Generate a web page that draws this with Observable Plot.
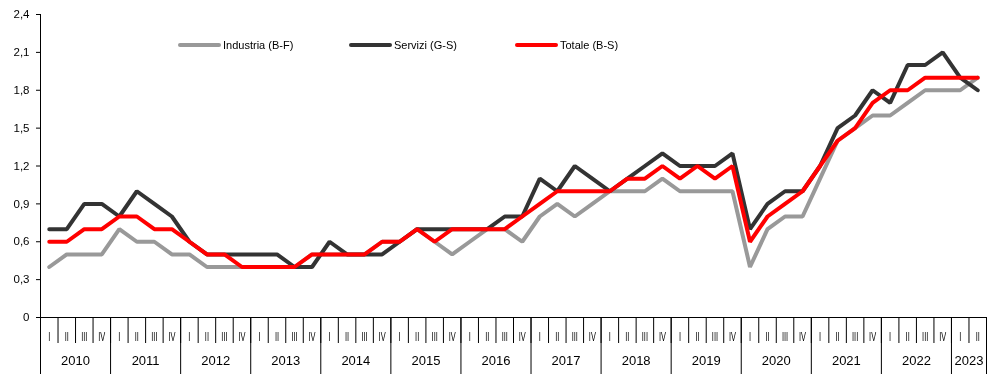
<!DOCTYPE html>
<html>
<head>
<meta charset="utf-8">
<script src="https://cdn.jsdelivr.net/npm/d3@7"></script>
<script src="https://cdn.jsdelivr.net/npm/@observablehq/plot@0.6"></script>
<style>
  html, body { margin: 0; padding: 0; background: #fff; }
  #wrap { position: relative; width: 1004px; height: 374px; overflow: hidden;
          font-family: "Liberation Sans", Arial, sans-serif; }
  #wrap svg { will-change: transform; }
  .leg { position: absolute; display: flex; align-items: center; font-size: 11px; color: #000; white-space: nowrap; }
  .leg .sw { width: 43px; height: 4px; border-radius: 2px; margin-right: 2px; }
</style>
</head>
<body>
<div id="wrap"></div>
<script>
// ---- data ----
const years = [2010, 2011, 2012, 2013, 2014, 2015, 2016, 2017, 2018, 2019, 2020, 2021, 2022, 2023];
const quarterLabels = ["I", "II", "III", "IV"];
const yTicks = [0, 0.3, 0.6, 0.9, 1.2, 1.5, 1.8, 2.1, 2.4];
const seriesNames = ["Industria (B-F)", "Servizi (G-S)", "Totale (B-S)"];
const seriesColors = ["#999999", "#333333", "#ff0000"];

const industria = [
  0.4, 0.5, 0.5, 0.5,
  0.7, 0.6, 0.6, 0.5,
  0.5, 0.4, 0.4, 0.4,
  0.4, 0.4, 0.4, 0.5,
  0.5, 0.5, 0.5, 0.6,
  0.6, 0.7, 0.6, 0.5,
  0.6, 0.7, 0.7, 0.6,
  0.8, 0.9, 0.8, 0.9,
  1.0, 1.0, 1.0, 1.1,
  1.0, 1.0, 1.0, 1.0,
  0.4, 0.7, 0.8, 0.8,
  1.1, 1.4, 1.5, 1.6,
  1.6, 1.7, 1.8, 1.8,
  1.8, 1.9
];
const servizi = [
  0.7, 0.7, 0.9, 0.9,
  0.8, 1.0, 0.9, 0.8,
  0.6, 0.5, 0.5, 0.5,
  0.5, 0.5, 0.4, 0.4,
  0.6, 0.5, 0.5, 0.5,
  0.6, 0.7, 0.7, 0.7,
  0.7, 0.7, 0.8, 0.8,
  1.1, 1.0, 1.2, 1.1,
  1.0, 1.1, 1.2, 1.3,
  1.2, 1.2, 1.2, 1.3,
  0.7, 0.9, 1.0, 1.0,
  1.2, 1.5, 1.6, 1.8,
  1.7, 2.0, 2.0, 2.1,
  1.9, 1.8
];
const totale = [
  0.6, 0.6, 0.7, 0.7,
  0.8, 0.8, 0.7, 0.7,
  0.6, 0.5, 0.5, 0.4,
  0.4, 0.4, 0.4, 0.5,
  0.5, 0.5, 0.5, 0.6,
  0.6, 0.7, 0.6, 0.7,
  0.7, 0.7, 0.7, 0.8,
  0.9, 1.0, 1.0, 1.0,
  1.0, 1.1, 1.1, 1.2,
  1.1, 1.2, 1.1, 1.2,
  0.6, 0.8, 0.9, 1.0,
  1.2, 1.4, 1.5, 1.7,
  1.8, 1.8, 1.9, 1.9,
  1.9, 1.9
];
const seriesValues = [industria, servizi, totale];

// ---- derived tables ----
const n = totale.length;
const periods = d3.range(n).map(i => ({ i, year: years[Math.floor(i / 4)], q: quarterLabels[i % 4] }));
const quarterBounds = d3.range(n + 1).map(i => i - 0.5);
const yearGroups = d3.groups(periods, d => d.year);
const yearBounds = yearGroups.map(([, ps]) => ps[0].i - 0.5).concat([n - 0.5]);
const yearCenters = yearGroups.map(([y, ps]) => ({ year: y, c: d3.mean(ps, p => p.i) }));
const yearByCenter = new Map(yearCenters.map(d => [d.c, d.year]));
const rows = seriesNames.map((name, s) => seriesValues[s].map((v, i) => ({ series: name, i, value: v })));

const fmt = d => d === 0 ? "0" : d.toFixed(1).replace(".", ",");

const chart = Plot.plot({
  width: 1004,
  height: 374,
  marginLeft: 40,
  marginRight: 18,
  marginTop: 14,
  marginBottom: 57,
  x: { domain: [-0.5, n - 0.5], axis: null },
  y: { domain: [0, 2.4], axis: null },
  style: { fontFamily: '"Liberation Sans", Arial, sans-serif', color: "#000", background: "#fff", overflow: "visible" },
  marks: [
    Plot.axisY({ ticks: yTicks, tickSize: 4, tickPadding: 7, tickFormat: fmt, fontSize: 11.5, stroke: "#000", label: null }),
    Plot.ruleX([-0.5], { stroke: "#000", strokeWidth: 1 }),
    Plot.ruleY([0], { stroke: "#000", strokeWidth: 1 }),
    Plot.axisX({ ticks: quarterBounds, tickSize: 26, tickFormat: () => "", stroke: "#000", label: null }),
    Plot.axisX({ ticks: yearBounds, tickSize: 57, tickFormat: () => "", stroke: "#000", label: null }),
    Plot.axisX({ ticks: d3.range(n), tickSize: 0, tickPadding: 15, fontSize: 12, tickFormat: i => periods[i].q, label: null, className: "qlab" }),
    Plot.axisX({ ticks: yearCenters.map(d => d.c), tickSize: 0, tickPadding: 38, fontSize: 13, tickFormat: c => String(yearByCenter.get(c)), label: null }),
    ...rows.map((data, s) => Plot.line(data, { x: "i", y: "value", stroke: seriesColors[s], strokeWidth: 4, strokeLinejoin: "miter", strokeLinecap: "round" }))
  ]
});

const wrap = document.getElementById("wrap");
wrap.appendChild(chart);

// condense quarter labels horizontally (narrow-font look)
chart.querySelectorAll("text").forEach(t => {
  if (quarterLabels.includes(t.textContent)) {
    const tr = t.getAttribute("transform") || "";
    t.setAttribute("transform", tr + " scale(0.62,1)");
  }
});

// legend (inside plot area)
const legendX = [178, 349, 515];
seriesNames.forEach((name, s) => {
  const d = document.createElement("div");
  d.className = "leg";
  d.style.left = legendX[s] + "px";
  d.style.top = "39px";
  const sw = document.createElement("span");
  sw.className = "sw";
  sw.style.background = seriesColors[s];
  const tx = document.createElement("span");
  tx.textContent = name;
  d.appendChild(sw);
  d.appendChild(tx);
  wrap.appendChild(d);
});
</script>
</body>
</html>
